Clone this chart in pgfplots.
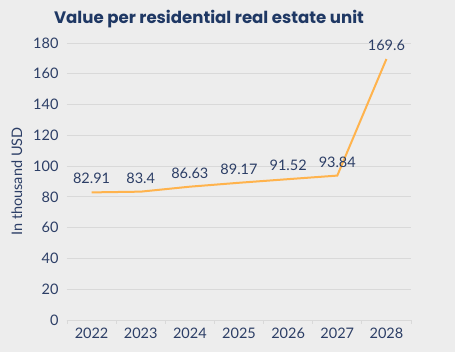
\documentclass[border=0pt]{standalone}
\usepackage{pgfplots}
\pgfplotsset{compat=1.18}
\usepackage{fontspec}
\setmainfont{Lato}
\newfontfamily\titlefont{Poppins}
\usetikzlibrary{backgrounds,calc}
\definecolor{bg}{HTML}{EDEDED}
\definecolor{navy}{HTML}{1F3864}
\definecolor{txt}{HTML}{2C3E66}
\definecolor{grid}{HTML}{D9D9D9}
\definecolor{line}{HTML}{FFB34D}
\begin{document}
\begin{tikzpicture}[x=1pt,y=1pt]
\begin{axis}[
  name=ax, at={(0,0)}, anchor=south west,
  scale only axis, width=344pt, height=277pt,
  xmin=-0.5, xmax=6.5, ymin=0, ymax=180,
  xtick={0,...,6},
  xticklabels={2022,2023,2024,2025,2026,2027,2028},
  minor xtick={-0.5,0.5,...,6.5},
  ytick={0,20,...,180},
  major tick length=0pt, minor tick length=4pt,
  tick align=outside,
  xtick pos=bottom,
  ymajorgrids, grid style={draw=grid, line width=0.8pt},
  separate axis lines,
  x axis line style={draw=grid, line width=0.8pt},
  y axis line style={draw=none},
  axis x line*=bottom,
  axis y line*=left,
  minor tick style={draw=grid, line width=0.8pt},
  major tick style={draw=none},
  ticklabel style={font=\fontsize{14.5}{16}\selectfont, text=txt},
  /pgf/number format/assume math mode=true,
  xticklabel style={yshift=-4pt},
  yticklabel style={xshift=-5pt},
  ylabel={In thousand USD},
  ylabel style={font=\fontsize{14.5}{16}\selectfont, text=txt, at={(-0.12,0.5)}},
  clip=false,
  nodes near coords,
  nodes near coords style={font=\fontsize{14.5}{16}\selectfont, text=txt, anchor=south, yshift=4pt},
  point meta=explicit symbolic,
]
\addplot[line, line width=2pt, mark=none] coordinates {
  (0,82.91) [82.91]
  (1,83.4) [83.4]
  (2,86.63) [86.63]
  (3,89.17) [89.17]
  (4,91.52) [91.52]
  (5,93.84) [93.84]
  (6,169.6) [169.6]
};
\end{axis}
\node[font=\titlefont\bfseries\fontsize{16.6}{18}\selectfont, text=navy, anchor=base] at ($(ax.north west)+(142pt,19pt)$) {Value per residential real estate unit};
\begin{scope}[on background layer]
\fill[bg] ($(ax.south west)+(-67pt,-32pt)$) rectangle ($(ax.north east)+(44pt,43pt)$);
\end{scope}
\useasboundingbox ($(ax.south west)+(-67pt,-32pt)$) rectangle ($(ax.north east)+(44pt,43pt)$);
\end{tikzpicture}
\end{document}
